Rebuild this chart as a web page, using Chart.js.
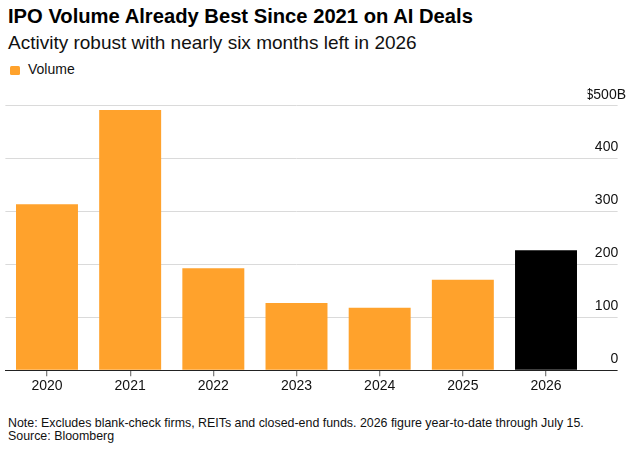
<!DOCTYPE html>
<html>
<head>
<meta charset="utf-8">
<script src="https://cdn.jsdelivr.net/npm/chart.js@4"></script>
<style>
    html, body { margin: 0; padding: 0; background: #fff; }
    body { width: 637px; height: 454px; position: relative; overflow: hidden;
           font-family: 'Liberation Sans', Arial, sans-serif; color: #111; }
    .txt { position: absolute; left: 8px; line-height: 1; white-space: nowrap; }
    #title { top: 5.7px; font-size: 20.2px; font-weight: bold; color: #000; }
    #subtitle { top: 32.9px; font-size: 19px; }
    #legend { position: absolute; top: 62.2px; left: 10px; font-size: 14px; line-height: 1; }
    #legend .box { position: absolute; left: 0; top: 3.5px; width: 10px; height: 9.3px; border-radius: 1.5px; }
    #legend .label { position: absolute; left: 18px; white-space: nowrap; }
    #note { top: 416.8px; font-size: 12.4px; }
    #source { top: 430.2px; font-size: 12.4px; }
    #chartWrap { position: absolute; left: 0; top: 80px; width: 637px; height: 320px; }
</style>
</head>
<body>
<div id="title" class="txt">IPO Volume Already Best Since 2021 on AI Deals</div>
<div id="subtitle" class="txt">Activity robust with nearly six months left in 2026</div>
<div id="legend"></div>
<div id="chartWrap"><canvas id="ipoChart"></canvas></div>
<div id="note" class="txt">Note: Excludes blank-check firms, REITs and closed-end funds. 2026 figure year-to-date through July 15.</div>
<div id="source" class="txt">Source: Bloomberg</div>
<script>
// data, $ billions
const years = ['2020', '2021', '2022', '2023', '2024', '2025', '2026'];
const volume = [314, 492, 193, 127, 118, 171, 227];
const yTicks = [0, 100, 200, 300, 400, 500];

const ORANGE = '#ffa22c';
const barColors = years.map(y => y === '2026' ? '#000000' : ORANGE);

document.getElementById('legend').innerHTML =
    `<span class="box" style="background:${ORANGE}"></span><span class="label">Volume</span>`;

const ctx = document.getElementById('ipoChart').getContext('2d');
new Chart(ctx, {
    type: 'bar',
    data: {
        labels: years,
        datasets: [{
            label: 'Volume',
            data: volume,
            backgroundColor: barColors,
            borderWidth: 0,
            categoryPercentage: 1,
            barPercentage: 0.745
        }]
    },
    options: {
        responsive: true,
        maintainAspectRatio: false,
        animation: false,
        layout: { padding: { left: 5.4, right: 11, top: 25.7, bottom: 0 } },
        plugins: {
            legend: { display: false },
            tooltip: { enabled: false }
        },
        scales: {
            x: {
                z: 1,
                grid: { offset: false, drawOnChartArea: false, drawTicks: true, tickLength: 6, color: '#808080', lineWidth: 1.3 },
                border: { display: true, color: '#222', width: 1 },
                ticks: { color: '#111', padding: 1, font: { family: 'Liberation Sans', size: 14 } },
                afterFit: scale => { scale.height = 29.7; }
            },
            y: {
                position: 'right',
                min: 0,
                max: 500,
                afterBuildTicks: scale => { scale.ticks = yTicks.map(v => ({ value: v })); },
                grid: {
                    drawTicks: true,
                    tickLength: 30,
                    lineWidth: 1,
                    color: c => c.tick && c.tick.value === 0 ? '#222' : '#dadada'
                },
                border: { display: false },
                ticks: {
                    color: '#111',
                    crossAlign: 'far',
                    padding: 0,
                    labelOffset: -11,
                    font: { family: 'Liberation Sans', size: 14 },
                    callback: v => v === 500 ? '$500B' : v + '\u2007'
                },
                afterFit: scale => { scale.width = 38.4; }
            }
        }
    }
});
</script>
</body>
</html>
